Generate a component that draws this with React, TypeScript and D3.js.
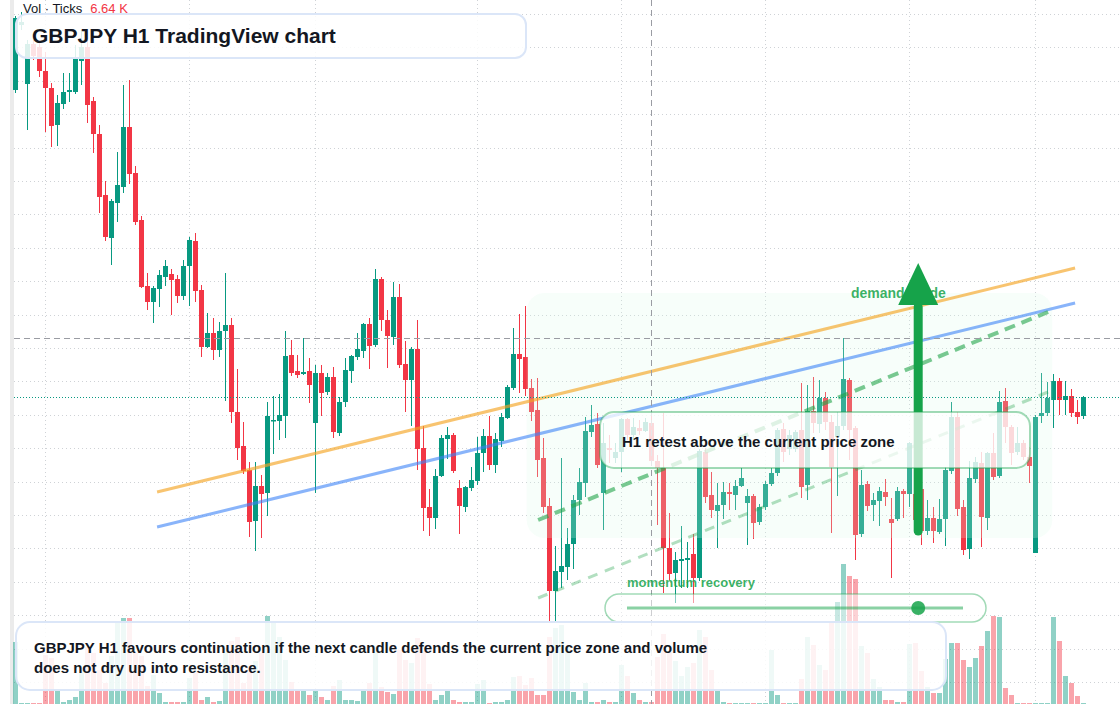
import React, { useEffect, useRef } from "react";
import * as d3 from "d3";

// GBPJPY H1 candles, oldest first
const openPrices = [
  203.10, 203.75, 203.16, 203.56, 203.53, 203.29, 203.12, 202.75, 202.96, 203.08,
  203.08, 203.39, 203.53, 202.99, 202.66, 202.05, 201.62, 201.97, 202.13, 202.73,
  202.27, 201.80, 201.14, 200.98, 201.11, 201.23, 201.26, 201.21, 201.04, 201.34,
  201.59, 201.10, 200.53, 200.67, 200.50, 200.69, 200.75, 199.88, 199.54, 199.30,
  198.79, 199.14, 199.07, 199.79, 199.79, 199.84, 200.45, 200.29, 200.26, 200.29,
  199.77, 200.27, 200.08, 200.23, 199.67, 199.98, 200.29, 200.43, 200.49, 200.76,
  200.55, 201.21, 200.80, 200.63, 201.03, 200.36, 200.20, 200.51, 199.52, 198.93,
  198.82, 199.24, 199.61, 199.65, 199.12, 198.93, 199.12, 199.19, 199.47, 199.64,
  199.35, 199.59, 199.82, 200.12, 200.46, 200.43, 200.12, 199.90, 199.42, 198.94,
  198.09, 198.28, 198.33, 198.56, 199.00, 199.17, 199.68, 199.76, 199.07, 199.52,
  199.42, 199.48, 199.81, 199.65, 199.72, 199.69, 199.77, 199.39, 199.32, 198.52,
  198.27, 198.39, 198.40, 198.46, 198.22, 199.48, 199.05, 198.89, 198.95, 199.08,
  199.05, 199.14, 198.97, 199.04, 198.78, 198.93, 199.16, 199.27, 199.71, 199.51,
  199.51, 199.70, 199.15, 199.89, 199.76, 200.02, 199.78, 199.63, 199.74, 200.20,
  199.72, 198.66, 199.16, 198.95, 198.99, 199.08, 198.81, 198.81, 199.09, 199.06,
  199.06, 199.11, 198.69, 198.82, 198.68, 198.81, 199.29, 199.83, 198.93, 198.51,
  199.21, 199.37, 198.82, 199.47, 199.24, 199.99, 199.73, 199.48, 199.57, 199.43,
  198.47, 199.84, 199.87, 200.00, 200.19, 200.00, 200.04, 199.88, 199.84,
];
const highPrices = [
  203.84, 203.88, 203.60, 203.60, 203.58, 203.48, 203.17, 203.05, 203.27, 203.27,
  203.55, 203.70, 203.60, 203.03, 202.75, 202.19, 202.01, 202.48, 203.15, 203.20,
  202.34, 201.84, 201.27, 201.14, 201.30, 201.40, 201.31, 201.25, 201.40, 201.63,
  201.67, 201.15, 200.87, 200.82, 200.78, 201.27, 200.82, 200.31, 199.78, 199.38,
  199.38, 199.25, 199.98, 200.04, 200.06, 200.69, 200.60, 200.45, 200.62, 200.42,
  200.35, 200.35, 200.27, 200.33, 200.03, 200.42, 200.45, 200.67, 200.77, 200.82,
  201.31, 201.23, 200.90, 201.18, 201.16, 200.59, 200.53, 200.80, 199.74, 199.11,
  199.31, 199.65, 199.73, 199.67, 199.20, 199.14, 199.33, 199.63, 199.71, 199.84,
  199.67, 199.87, 200.15, 200.72, 200.86, 200.94, 200.21, 200.22, 199.62, 199.02,
  198.54, 199.42, 198.72, 199.05, 199.32, 199.83, 199.95, 199.87, 199.77, 199.65,
  199.57, 199.82, 199.82, 199.82, 199.80, 199.82, 199.87, 199.45, 199.87, 198.87,
  198.48, 198.74, 198.58, 198.66, 199.51, 199.52, 199.28, 199.17, 199.18, 199.17,
  199.20, 199.32, 199.11, 199.06, 198.96, 199.19, 199.32, 199.72, 199.77, 199.70,
  199.70, 200.17, 200.15, 200.23, 200.20, 200.08, 199.85, 199.88, 200.62, 200.22,
  199.74, 199.30, 199.19, 199.07, 199.13, 199.21, 199.02, 199.13, 199.11, 199.58,
  199.20, 199.20, 199.00, 198.93, 199.01, 199.33, 199.98, 199.88, 199.00, 199.39,
  199.43, 199.48, 199.48, 199.67, 200.09, 200.12, 199.75, 199.73, 199.60, 199.53,
  199.85, 200.27, 200.18, 200.26, 200.22, 200.19, 200.11, 200.00, 200.04,
];
const lowPrices = [
  203.07, 203.70, 202.70, 203.40, 203.23, 202.68, 202.53, 202.54, 202.91, 202.98,
  203.06, 203.15, 202.77, 202.47, 201.87, 201.59, 201.35, 201.78, 202.07, 202.16,
  201.75, 201.12, 200.90, 200.77, 200.93, 201.14, 200.85, 200.97, 201.00, 200.94,
  200.98, 200.43, 200.52, 200.40, 200.43, 199.99, 199.77, 199.40, 199.26, 198.63,
  198.49, 198.62, 198.84, 199.46, 199.60, 199.62, 200.24, 200.22, 200.25, 199.97,
  199.07, 199.84, 200.05, 199.62, 199.64, 199.93, 200.17, 200.40, 200.42, 200.31,
  200.53, 200.69, 200.32, 200.55, 200.32, 199.88, 199.74, 199.30, 198.69, 198.64,
  198.71, 199.23, 199.41, 199.27, 198.66, 198.88, 199.09, 199.15, 199.28, 199.30,
  199.27, 199.53, 199.81, 200.10, 200.07, 200.04, 199.79, 199.23, 198.87, 197.78,
  197.78, 198.12, 198.20, 198.31, 198.85, 199.03, 199.63, 199.32, 198.70, 199.37,
  199.37, 199.28, 199.60, 199.60, 199.65, 199.68, 199.34, 198.75, 198.07, 198.20,
  197.97, 198.12, 198.12, 197.97, 198.19, 198.97, 198.82, 198.52, 198.81, 198.90,
  198.90, 199.13, 198.55, 198.61, 198.75, 198.90, 199.14, 199.24, 199.38, 199.45,
  199.48, 199.02, 199.00, 199.67, 199.67, 199.70, 198.67, 199.04, 199.70, 199.40,
  198.40, 198.63, 198.89, 198.79, 198.74, 198.94, 198.22, 198.79, 198.82, 198.93,
  198.70, 198.55, 198.65, 198.57, 198.66, 198.54, 199.26, 198.84, 198.45, 198.41,
  199.17, 198.53, 198.70, 199.20, 199.22, 199.57, 199.35, 199.45, 199.40, 199.17,
  198.47, 199.77, 199.84, 199.72, 199.85, 199.85, 199.83, 199.76, 199.81,
];
const closePrices = [
  203.82, 203.78, 203.56, 203.44, 203.29, 203.12, 202.74, 202.97, 203.08, 203.10,
  203.41, 203.53, 202.95, 202.66, 202.03, 201.63, 201.99, 202.15, 202.73, 202.26,
  201.78, 201.13, 200.98, 201.12, 201.25, 201.34, 201.20, 201.04, 201.34, 201.60,
  201.09, 200.53, 200.67, 200.50, 200.69, 200.75, 199.88, 199.52, 199.29, 198.78,
  199.14, 199.06, 199.84, 199.80, 199.85, 200.44, 200.27, 200.25, 200.28, 200.15,
  200.27, 200.07, 200.23, 199.68, 199.98, 200.30, 200.44, 200.51, 200.76, 200.54,
  201.21, 200.80, 200.64, 201.03, 200.35, 200.20, 200.51, 199.51, 198.92, 198.82,
  199.24, 199.62, 199.65, 199.29, 198.94, 199.13, 199.20, 199.47, 199.64, 199.35,
  199.61, 199.83, 200.13, 200.46, 200.41, 200.11, 199.88, 199.40, 198.93, 198.09,
  198.29, 198.34, 198.56, 199.00, 199.18, 199.69, 199.75, 199.35, 199.57, 199.50,
  199.48, 199.81, 199.65, 199.73, 199.69, 199.78, 199.39, 199.32, 198.52, 198.26,
  198.40, 198.41, 198.42, 198.22, 199.49, 199.03, 198.90, 198.95, 199.08, 199.06,
  199.14, 199.22, 199.04, 198.77, 198.93, 199.16, 199.27, 199.70, 199.48, 199.65,
  199.68, 199.13, 199.89, 199.77, 200.02, 199.78, 199.33, 199.74, 200.21, 199.70,
  198.65, 199.15, 198.94, 199.00, 199.09, 199.03, 198.77, 199.09, 199.06, 199.57,
  198.80, 198.69, 198.82, 198.69, 198.81, 199.30, 199.83, 198.91, 198.50, 199.22,
  199.38, 198.83, 199.47, 199.23, 199.98, 199.73, 199.47, 199.57, 199.43, 199.34,
  199.83, 199.87, 200.02, 200.19, 200.00, 200.04, 199.87, 199.83, 200.03,
];
// tick volume per candle
const volumeTicks = [
  3200, 150, 150, 150, 150, 2550, 2400, 800, 200, 300,
  450, 1800, 2950, 2650, 1800, 1150, 2500, 4150, 4400, 4400,
  2650, 2500, 1000, 1550, 650, 200, 200, 200, 200, 1400,
  1700, 300, 450, 200, 250, 2900, 3250, 3450, 1150, 2000,
  2250, 2650, 4500, 4200, 3450, 2300, 1200, 800, 800, 550,
  800, 450, 300, 1000, 1300, 300, 300, 250, 800, 1150,
  2950, 950, 700, 600, 2800, 2300, 2150, 3400, 2800, 1100,
  300, 550, 800, 300, 200, 200, 200, 1100, 1300, 150,
  200, 200, 300, 1450, 1500, 1050, 1400, 550, 550, 3450,
  3900, 4050, 2950, 700, 300, 1150, 200, 200, 300, 200,
  200, 2050, 1500, 650, 300, 200, 200, 2450, 3600, 2700,
  2250, 1500, 1950, 2150, 3800, 3450, 1800, 800, 200, 150,
  150, 150, 150, 150, 150, 150, 2800, 550, 150, 150,
  150, 1350, 3450, 3050, 2050, 1800, 4150, 5200, 7100, 6500,
  6350, 3000, 2650, 1350, 950, 300, 300, 200, 200, 3100,
  3150, 1750, 950, 650, 650, 2350, 3150, 3150, 2300, 1950,
  2400, 3000, 3750, 4500, 4450, 900, 550, 150, 150, 150,
  150, 150, 150, 4450, 3250, 1500, 1150, 500, 150,
];

// candle indexes where the session grid lines fall
const timeGridIdx = [5, 29, 50, 77, 101, 125, 149, 170];

// drawn levels: [candle index, price]
const resistanceLine = [[23.6, 199.08], [176.6, 201.32]];
const supportLine = [[23.6, 198.73], [176.6, 200.97]];
const channelUpper = [[87.1, 198.8], [172.1, 200.88]];
const channelLower = [[87.1, 198.02], [172.1, 200.08]];
const demandZone = { from: 85.2, to: 172.8, top: 201.07, bottom: 198.62 };
const guideArrow = { idx: 150.45, from: 198.69, to: 201.37, head: 200.95 };
const crosshair = { idx: 106, price: 200.62 };

const volLabel = "6.64 K";
const titleText = "GBPJPY H1 TradingView chart";
const retestText = "H1 retest above the current price zone";
const noteLines = [
  "GBPJPY H1 favours continuation if the next candle defends the current price zone and volume",
  "does not dry up into resistance.",
];

const UP = "#089981";
const DOWN = "#f23645";
const FONT = "'Liberation Sans', Arial, Helvetica, sans-serif";

const CandleChart = () => {
  const svgRef = useRef(null);

  useEffect(() => {
    document.body.style.margin = "0";
    const svg = d3.select(svgRef.current);
    svg.selectAll("*").remove();

    const width = 1120;
    const height = 704;
    const n = closePrices.length;

    const candles = d3.range(n).map((i) => ({
      i,
      o: openPrices[i],
      h: highPrices[i],
      l: lowPrices[i],
      c: closePrices[i],
      v: volumeTicks[i],
    }));

    const x = d3.scaleLinear().domain([0, n - 1]).range([15.5, 1083.5]);
    const y = d3.scaleLinear().domain([204, 196.96]).range([0, height]);
    const yVol = d3.scaleLinear().domain([0, 10000]).range([706, 506]);

    svg.append("rect").attr("width", width).attr("height", height).attr("fill", "#ffffff");

    // price scale edge
    svg.append("rect").attr("x", 10).attr("y", 0).attr("width", 4).attr("height", height).attr("fill", "#ebebeb");

    // grid
    const gridPrices = d3.range(0, 21).map((k) => 203.86 - 0.334 * k);
    svg.append("g")
      .selectAll("line")
      .data(gridPrices)
      .enter()
      .append("line")
      .attr("x1", 14)
      .attr("x2", width)
      .attr("y1", (d) => Math.round(y(d)) + 0.5)
      .attr("y2", (d) => Math.round(y(d)) + 0.5)
      .attr("stroke", "#cfd2d6")
      .attr("stroke-dasharray", "1,3");
    svg.append("g")
      .selectAll("line")
      .data(timeGridIdx)
      .enter()
      .append("line")
      .attr("x1", (d) => x(d))
      .attr("x2", (d) => x(d))
      .attr("y1", 0)
      .attr("y2", height)
      .attr("stroke", "#cfd2d6")
      .attr("stroke-dasharray", "1,3");

    // volume histogram
    svg.append("g")
      .selectAll("rect")
      .data(candles)
      .enter()
      .append("rect")
      .attr("x", (d) => x(d.i) - 2.5)
      .attr("width", 5)
      .attr("y", (d) => yVol(d.v))
      .attr("height", (d) => yVol(0) - yVol(d.v))
      .attr("fill", (d) => (d.c >= d.o ? UP : DOWN))
      .attr("fill-opacity", 0.45);

    // candles
    const cg = svg.append("g");
    cg.selectAll("line")
      .data(candles)
      .enter()
      .append("line")
      .attr("x1", (d) => x(d.i))
      .attr("x2", (d) => x(d.i))
      .attr("y1", (d) => y(d.h))
      .attr("y2", (d) => y(d.l))
      .attr("stroke", (d) => (d.c >= d.o ? UP : DOWN))
      .attr("stroke-width", 1);
    cg.selectAll("rect")
      .data(candles)
      .enter()
      .append("rect")
      .attr("x", (d) => x(d.i) - 2.5)
      .attr("width", 5)
      .attr("y", (d) => y(Math.max(d.o, d.c)))
      .attr("height", (d) => Math.max(1.5, Math.abs(y(d.o) - y(d.c))))
      .attr("fill", (d) => (d.c >= d.o ? UP : DOWN));

    // demand zone wash
    svg.append("rect")
      .attr("x", x(demandZone.from))
      .attr("y", y(demandZone.top))
      .attr("width", x(demandZone.to) - x(demandZone.from))
      .attr("height", y(demandZone.bottom) - y(demandZone.top))
      .attr("rx", 18)
      .attr("fill", "#dcfce7")
      .attr("fill-opacity", 0.22);

    const line = d3.line().x((d) => x(d[0])).y((d) => y(d[1]));

    svg.append("path").datum(resistanceLine).attr("d", line)
      .attr("stroke", "#f5a524").attr("stroke-opacity", 0.65).attr("stroke-width", 3).attr("fill", "none");
    svg.append("path").datum(supportLine).attr("d", line)
      .attr("stroke", "#3b82f6").attr("stroke-opacity", 0.6).attr("stroke-width", 3).attr("fill", "none");
    svg.append("path").datum(channelUpper).attr("d", line)
      .attr("stroke", "#22a34a").attr("stroke-opacity", 0.6).attr("stroke-width", 4)
      .attr("stroke-dasharray", "11,7").attr("fill", "none");
    svg.append("path").datum(channelLower).attr("d", line)
      .attr("stroke", "#22a34a").attr("stroke-opacity", 0.35).attr("stroke-width", 3)
      .attr("stroke-dasharray", "10,8").attr("fill", "none");

    // crosshair + last price
    svg.append("line")
      .attr("x1", x(crosshair.idx)).attr("x2", x(crosshair.idx))
      .attr("y1", 0).attr("y2", height)
      .attr("stroke", "#9a9ca3").attr("stroke-dasharray", "6,4");
    svg.append("line")
      .attr("x1", 14).attr("x2", width)
      .attr("y1", Math.round(y(crosshair.price)) + 0.5).attr("y2", Math.round(y(crosshair.price)) + 0.5)
      .attr("stroke", "#9a9ca3").attr("stroke-dasharray", "6,4");
    const lastY = Math.round(y(closePrices[n - 1])) + 0.5;
    svg.append("line")
      .attr("x1", 14).attr("x2", width)
      .attr("y1", lastY).attr("y2", lastY)
      .attr("stroke", UP).attr("stroke-dasharray", "1,2");

    // demand guide arrow
    svg.append("text")
      .attr("x", 851).attr("y", 298)
      .attr("font-family", FONT).attr("font-size", 14).attr("font-weight", "bold")
      .attr("fill", "#16a34a").attr("fill-opacity", 0.85)
      .text("demand guide");
    const ax = x(guideArrow.idx);
    svg.append("line")
      .attr("x1", ax).attr("x2", ax)
      .attr("y1", y(guideArrow.from)).attr("y2", y(guideArrow.head) + 2)
      .attr("stroke", "#16a34a").attr("stroke-width", 9).attr("stroke-linecap", "round");
    svg.append("path")
      .attr("d", `M${ax - 20},${y(guideArrow.head)}L${ax + 20},${y(guideArrow.head)}L${ax},${y(guideArrow.to)}Z`)
      .attr("fill", "#16a34a");

    // momentum slider
    svg.append("text")
      .attr("x", 627).attr("y", 587)
      .attr("font-family", FONT).attr("font-size", 13).attr("font-weight", "bold")
      .attr("fill", "#16a34a").attr("fill-opacity", 0.85)
      .text("momentum recovery");
    svg.append("rect")
      .attr("x", 605).attr("y", 594).attr("width", 381).attr("height", 28).attr("rx", 14)
      .attr("fill", "#ffffff").attr("fill-opacity", 0.5)
      .attr("stroke", "#16a34a").attr("stroke-opacity", 0.4).attr("stroke-width", 1.5);
    svg.append("line")
      .attr("x1", 627).attr("x2", 963).attr("y1", 608).attr("y2", 608)
      .attr("stroke", "#16a34a").attr("stroke-opacity", 0.5).attr("stroke-width", 3);
    svg.append("circle")
      .attr("cx", ax).attr("cy", 608).attr("r", 7)
      .attr("fill", "#16a34a").attr("fill-opacity", 0.85);

    // retest callout
    svg.append("rect")
      .attr("x", 600).attr("y", 412).attr("width", 430).attr("height", 56).attr("rx", 14)
      .attr("fill", "#ffffff").attr("fill-opacity", 0.76)
      .attr("stroke", "#16a34a").attr("stroke-opacity", 0.4).attr("stroke-width", 2);
    svg.append("text")
      .attr("x", 622).attr("y", 447)
      .attr("font-family", FONT).attr("font-size", 15).attr("font-weight", "bold")
      .attr("fill", "#131722")
      .text(retestText);

    // bottom note
    svg.append("rect")
      .attr("x", 16).attr("y", 622).attr("width", 930).attr("height", 68).attr("rx", 14)
      .attr("fill", "#ffffff").attr("fill-opacity", 0.86)
      .attr("stroke", "#dbe6f8").attr("stroke-width", 2);
    svg.append("g")
      .selectAll("text")
      .data(noteLines)
      .enter()
      .append("text")
      .attr("x", 34)
      .attr("y", (d, k) => 653 + k * 20)
      .attr("font-family", FONT).attr("font-size", 15).attr("font-weight", "bold")
      .attr("fill", "#131722")
      .text((d) => d);

    // title
    svg.append("rect")
      .attr("x", 16).attr("y", 14).attr("width", 510).attr("height", 44).attr("rx", 11)
      .attr("fill", "#ffffff").attr("fill-opacity", 0.86)
      .attr("stroke", "#dbe6f8").attr("stroke-width", 2);
    svg.append("text")
      .attr("x", 32).attr("y", 43)
      .attr("font-family", FONT).attr("font-size", 21).attr("font-weight", "bold")
      .attr("fill", "#131722")
      .text(titleText);

    // volume legend
    const legend = svg.append("text")
      .attr("x", 23).attr("y", 13)
      .attr("font-family", FONT).attr("font-size", 13);
    legend.append("tspan").attr("fill", "#131722").text("Vol · Ticks");
    legend.append("tspan").attr("fill", DOWN).attr("dx", 8).text(volLabel);
  }, []);

  return (
    <svg ref={svgRef} width={1120} height={704} style={{ display: "block" }}></svg>
  );
};

export default function App() {
  return <CandleChart />;
}
